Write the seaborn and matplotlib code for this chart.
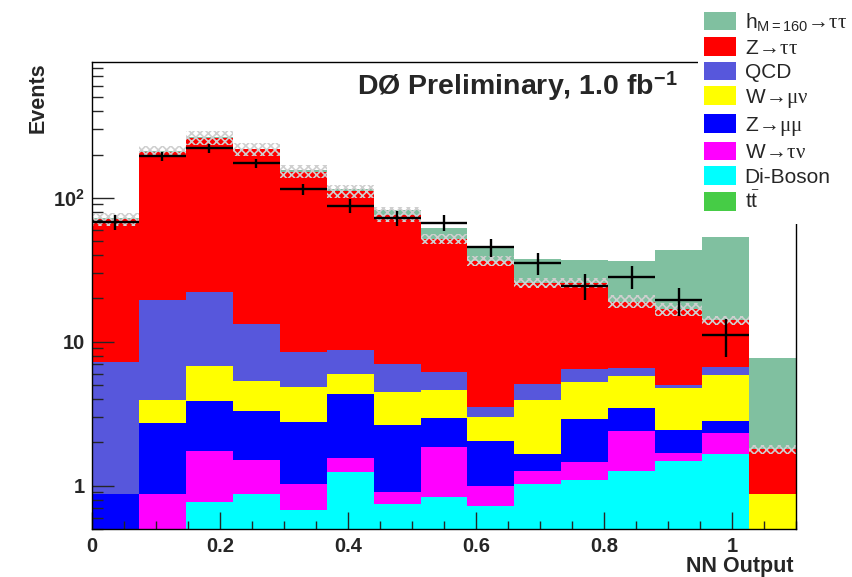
import numpy as np
import pandas as pd
import matplotlib
matplotlib.use("Agg")
import matplotlib.pyplot as plt
import seaborn as sns
from matplotlib.patches import Patch, Rectangle
from matplotlib.ticker import LogLocator, NullFormatter, MultipleLocator

# ---------------- data ----------------
edges = np.linspace(0.0, 1.1, 16)          # 15 bins of NN output

higgs    = [1.0, 2.0, 3.0, 3.0, 4.0, 5.0, 6.0, 9.5, 10.0, 12.0, 11.5, 17.6, 26.7, 39.0, 5.9]
ztautau  = [64.0, 190.0, 240.0, 204.0, 143.0, 102.0, 69.0, 46.0, 33.0, 20.5, 19.1, 12.5, 11.8, 7.6, 0.93]
qcd      = [6.3, 15.7, 15.3, 7.9, 3.7, 2.8, 2.5, 1.6, 0.5, 1.15, 1.2, 0.8, 0.26, 0.77, 0.0]
wmunu    = [0.0, 1.18, 2.89, 2.08, 2.10, 1.64, 1.82, 1.64, 0.97, 2.29, 2.35, 2.28, 2.31, 3.10, 0.87]
zmumu    = [0.88, 1.85, 2.12, 1.77, 1.72, 2.78, 1.74, 1.08, 1.03, 0.41, 1.43, 1.08, 0.75, 0.46, 0.0]
wtaunu   = [0.0, 0.88, 0.96, 0.64, 0.35, 0.31, 0.16, 1.03, 0.28, 0.23, 0.38, 1.12, 0.21, 0.67, 0.0]
diboson  = [0.0, 0.0, 0.77, 0.87, 0.68, 1.24, 0.75, 0.84, 0.72, 1.03, 1.09, 1.26, 1.49, 1.67, 0.0]
ttbar    = [0.0] * 15

band_lo  = [64.0, 192.0, 233.0, 194.0, 137.0, 99.5, 68.0, 48.0, 33.7, 23.6, 23.6, 17.1, 15.2, 13.1, 1.67]
band_hi  = [79.0, 230.0, 293.0, 242.0, 169.0, 123.0, 86.0, 56.0, 39.2, 27.7, 27.7, 21.2, 18.6, 15.2, 1.93]

data     = [68.0, 194.0, 221.0, 174.0, 115.0, 88.5, 72.3, 67.4, 45.5, 35.2, 24.5, 28.4, 19.4, 11.1]
data_err = [8.2, 13.9, 14.9, 13.2, 10.7, 9.4, 8.5, 8.2, 6.7, 5.9, 4.9, 5.3, 4.4, 3.3]

labels = [r"$\mathsf{h}_{\mathsf{M=160}}\!\rightarrow\!\tau\tau$",
          r"Z$\!\rightarrow\!\tau\tau$",
          "QCD",
          r"W$\!\rightarrow\!\mu\nu$",
          r"Z$\!\rightarrow\!\mu\mu$",
          r"W$\!\rightarrow\!\tau\nu$",
          "Di-Boson",
          r"$\mathsf{t}\bar{\mathsf{t}}$"]
series = [higgs, ztautau, qcd, wmunu, zmumu, wtaunu, diboson, ttbar]
colors = ["#80c0a0", "#ff0000", "#5757dc", "#ffff00",
          "#0000ff", "#ff00ff", "#00ffff", "#46cc46"]

xtick_vals = [0.0, 0.2, 0.4, 0.6, 0.8, 1.0]
xtick_labels = ["0", "0.2", "0.4", "0.6", "0.8", "1"]
ytick_vals = [1, 10, 100]
ytick_labels = ["1", "10", r"10$^{\mathbf{2}}$"]

# ---------------- style ----------------
sns.set_style("ticks")
plt.rcParams.update({
    "font.family": ["Liberation Sans", "DejaVu Sans"],
    "mathtext.fontset": "custom",
    "mathtext.rm": "Liberation Serif",
    "mathtext.it": "Liberation Serif",
    "mathtext.sf": "Liberation Sans",
    "mathtext.bf": "Liberation Sans:bold",
    "hatch.linewidth": 1.2,
    "xtick.direction": "in",
    "ytick.direction": "in",
    "axes.edgecolor": "black",
    "axes.linewidth": 1.0,
    "axes.axisbelow": False,
})

centers = 0.5 * (edges[:-1] + edges[1:])
binw = edges[1] - edges[0]

rows = []
for lab, vals in zip(labels, series):
    for c, v in zip(centers, vals):
        rows.append({"x": c, "w": v, "proc": lab})
df = pd.DataFrame(rows)

fig = plt.figure(figsize=(8.52, 5.77), dpi=100)
ax = fig.add_axes([0.108, 0.0832, 0.8263, 0.8094])

sns.histplot(data=df, x="x", weights="w", hue="proc", hue_order=labels,
             palette=dict(zip(labels, colors)), multiple="stack", bins=list(edges),
             element="bars", fill=True, alpha=1.0, linewidth=0, edgecolor="none",
             legend=False, ax=ax)
ax.set_yscale("log")
ax.set_axisbelow(False)

# systematic uncertainty band on total background
lo = np.array(band_lo)
hi = np.array(band_hi)
ax.bar(centers, hi - lo, bottom=lo, width=binw, align="center",
       facecolor="none", edgecolor="#cfcfcf", hatch="xxxx", linewidth=0, zorder=3)

# data points
nd = len(data)
ax.errorbar(centers[:nd], data, yerr=data_err, xerr=binw / 2, fmt="none",
            ecolor="black", elinewidth=1.7, capsize=0, zorder=4)

ax.set_xlim(0, 1.1)
ax.set_ylim(0.5, 880)
ax.set_xticks(xtick_vals, labels=xtick_labels)
ax.xaxis.set_minor_locator(MultipleLocator(0.05))
ax.set_yticks(ytick_vals, labels=ytick_labels)
ax.yaxis.set_minor_locator(LogLocator(base=10, subs=np.arange(2, 10)))
ax.yaxis.set_minor_formatter(NullFormatter())

ax.tick_params(axis="x", which="major", length=12, width=1, labelsize=14.5, pad=6, top=False)
ax.tick_params(axis="x", which="minor", length=6, width=1, top=False)
ax.tick_params(axis="y", which="major", length=16, width=1, labelsize=14.5, pad=5, right=False)
ax.tick_params(axis="y", which="minor", length=8, width=1, right=False)
for t in ax.get_xticklabels() + ax.get_yticklabels():
    t.set_fontweight("bold")

for s in ax.spines.values():
    s.set_visible(True)
    s.set_color("black")
    s.set_linewidth(1.0)
    s.set_zorder(5)

ax.set_xlabel("NN Output", fontsize=15.5, fontweight="bold", loc="right")
ax.xaxis.set_label_coords(0.997, -0.058)
ax.set_ylabel("Events", fontsize=15.5, fontweight="bold", loc="top")
ax.yaxis.set_label_coords(-0.061, 1.0)

ax.text(0.376, 0.931, "DØ Preliminary, 1.0 fb$^{\\mathbf{-1}}$", transform=ax.transAxes,
        fontsize=20.5, fontweight="bold", ha="left", va="baseline")

# legend area (covers the frame corner like the original)
fig.add_artist(Rectangle((698 / 852, 1 - 224 / 577), 1.0, 1.0, transform=fig.transFigure,
                         facecolor="white", edgecolor="none", zorder=4))
handles = [Patch(facecolor=c, edgecolor="none") for c in colors]
fig.legend(handles, labels, loc="upper left", bbox_to_anchor=(704 / 852, 1 - 11 / 577),
           frameon=False, fontsize=15, handlelength=1.55, handleheight=1.0,
           handletextpad=0.4, labelspacing=0.2, borderpad=0, borderaxespad=0)

fig.savefig("out.png", dpi=100)
